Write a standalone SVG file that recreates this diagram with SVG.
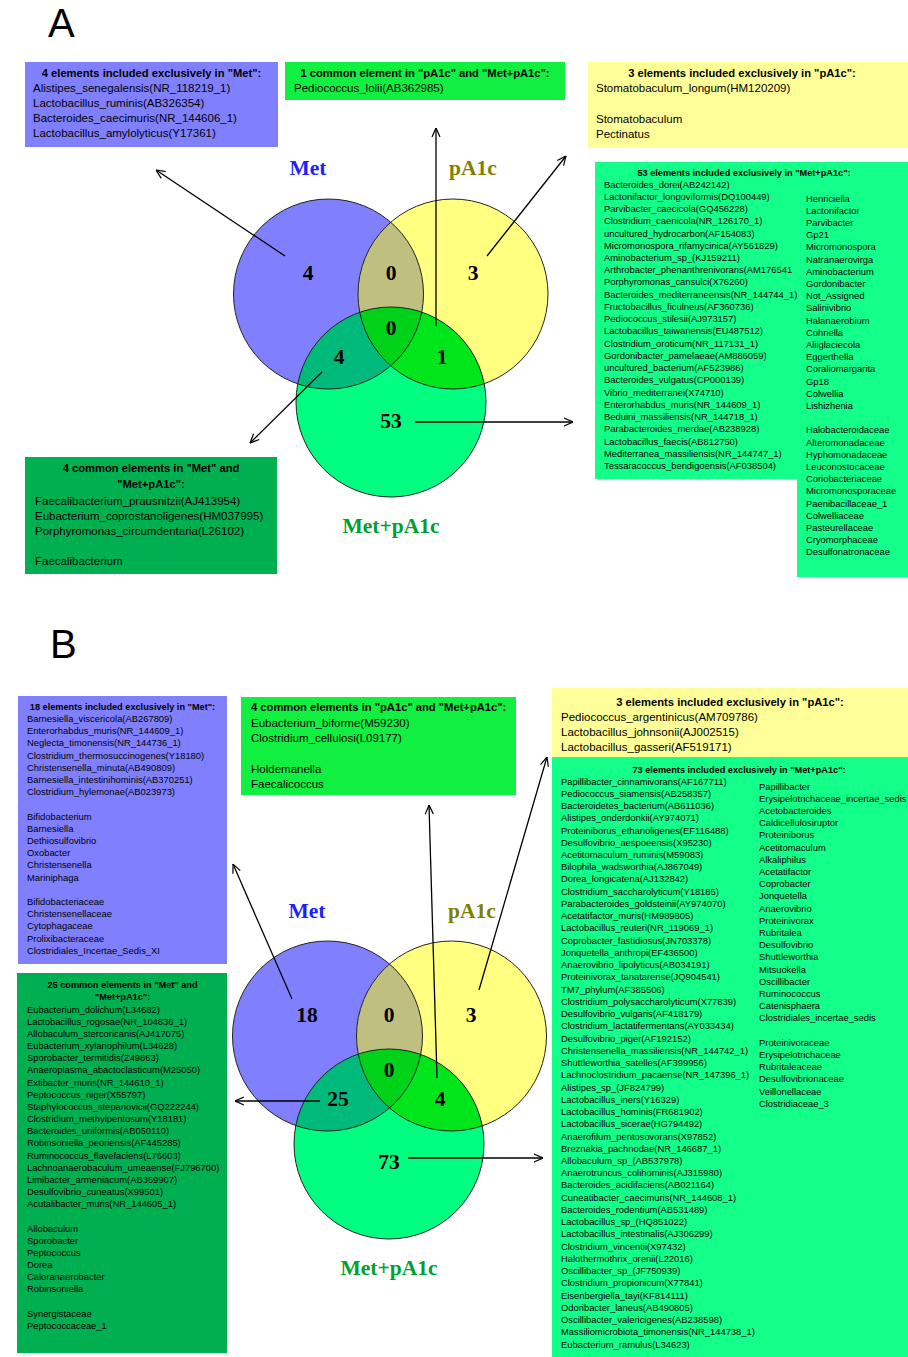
<svg xmlns="http://www.w3.org/2000/svg" width="908" height="1357" viewBox="0 0 908 1357">
<style>
.panel{font-family:"Liberation Sans",Arial,sans-serif;font-size:40px;fill:#000}
.at{font-family:"Liberation Sans",Arial,sans-serif;font-weight:bold;font-size:11.2px;fill:#000}
.ab{font-family:"Liberation Sans",Arial,sans-serif;font-size:11.5px;fill:#000}
.st{font-family:"Liberation Sans",Arial,sans-serif;font-weight:bold;font-size:9.2px;fill:#000}
.sb{font-family:"Liberation Sans",Arial,sans-serif;font-size:9.4px;fill:#000}
.mid{text-anchor:middle}
.num{font-family:"Liberation Serif","Times New Roman",serif;font-weight:bold;font-size:21.5px;fill:#000;text-anchor:middle}
.lbl{font-family:"Liberation Serif","Times New Roman",serif;font-weight:bold;font-size:21.5px;text-anchor:middle}
.purple{fill:#8080FF}
.yellow{fill:#FFFF99}
.green{fill:#11F040}
.spring{fill:#14FF8A}
.dgreen{fill:#00B050}
.outline{fill:none;stroke:#222;stroke-width:1}
.arrow{fill:none;stroke:#000;stroke-width:1.3;marker-end:url(#ah)}
</style>
<defs>
<marker id="ah" viewBox="0 0 10 10" refX="10" refY="5" markerWidth="10" markerHeight="10" markerUnits="userSpaceOnUse" orient="auto">
<path d="M1,1 L10,5 L1,9" fill="none" stroke="#000" stroke-width="1.2"/>
</marker>
<clipPath id="cAm"><circle cx="328.5" cy="294" r="95"/></clipPath>
<clipPath id="cAp"><circle cx="453" cy="294" r="95"/></clipPath>
<clipPath id="cBm"><circle cx="327.5" cy="1036" r="95"/></clipPath>
<clipPath id="cBp"><circle cx="451.5" cy="1036" r="95"/></clipPath>
</defs>
<rect width="908" height="1357" fill="#fff"/>

<text class="panel" x="48" y="37">A</text>
<text class="panel" x="50" y="658">B</text>

<!-- Panel A boxes -->
<g id="boxA-met">
<rect class="purple" x="25" y="62" width="253" height="85"/>
<text class="at mid" x="151.5" y="77">4 elements included exclusively in "Met":</text>
<text class="ab"><tspan x="33" y="92">Alistipes_senegalensis(NR_118219_1)</tspan><tspan x="33" y="107">Lactobacillus_ruminis(AB326354)</tspan><tspan x="33" y="122">Bacteroides_caecimuris(NR_144606_1)</tspan><tspan x="33" y="137">Lactobacillus_amylolyticus(Y17361)</tspan></text>
</g>
<g id="boxA-pA1c-metpA1c">
<rect class="green" x="285" y="62" width="280" height="38"/>
<text class="at mid" x="425" y="77">1 common element in "pA1c" and "Met+pA1c":</text>
<text class="ab" x="294" y="92">Pediococcus_lolii(AB362985)</text>
</g>
<g id="boxA-pA1c">
<rect class="yellow" x="588" y="62" width="320" height="86"/>
<text class="at mid" x="742" y="77">3 elements included exclusively in "pA1c":</text>
<text class="ab"><tspan x="596" y="92">Stomatobaculum_longum(HM120209)</tspan><tspan x="596" y="123">Stomatobaculum</tspan><tspan x="596" y="138">Pectinatus</tspan></text>
</g>
<g id="boxA-metpA1c">
<polygon class="spring" points="595,162 908,162 908,577 797,577 797,479 595,479"/>
<text class="st mid" x="744" y="175.5">53 elements included exclusively in "Met+pA1c":</text>
<text class="sb"><tspan x="604" y="187.5">Bacteroides_dorei(AB242142)</tspan><tspan x="604" y="199.7">Lactonifactor_longoviformis(DQ100449)</tspan><tspan x="604" y="212">Parvibacter_caecicola(GQ456228)</tspan><tspan x="604" y="224.2">Clostridium_caenicola(NR_126170_1)</tspan><tspan x="604" y="236.5">uncultured_hydrocarbon(AF154083)</tspan><tspan x="604" y="248.7">Micromonospora_rifamycinica(AY561829)</tspan><tspan x="604" y="260.9">Aminobacterium_sp_(KJ159211)</tspan><tspan x="604" y="273.2">Arthrobacter_phenanthrenivorans(AM176541</tspan><tspan x="604" y="285.4">Porphyromonas_cansulci(X76260)</tspan><tspan x="604" y="297.7">Bacteroides_mediterraneensis(NR_144744_1)</tspan><tspan x="604" y="309.9">Fructobacillus_ficulneus(AF360736)</tspan><tspan x="604" y="322.1">Pediococcus_stilesii(AJ973157)</tspan><tspan x="604" y="334.4">Lactobacillus_taiwanensis(EU487512)</tspan><tspan x="604" y="346.6">Clostridium_oroticum(NR_117131_1)</tspan><tspan x="604" y="358.9">Gordonibacter_pamelaeae(AM886059)</tspan><tspan x="604" y="371.1">uncultured_bacterium(AF523986)</tspan><tspan x="604" y="383.3">Bacteroides_vulgatus(CP000139)</tspan><tspan x="604" y="395.6">Vibrio_mediterranei(X74710)</tspan><tspan x="604" y="407.8">Enterorhabdus_muris(NR_144609_1)</tspan><tspan x="604" y="420.1">Beduini_massiliensis(NR_144718_1)</tspan><tspan x="604" y="432.3">Parabacteroides_merdae(AB238928)</tspan><tspan x="604" y="444.5">Lactobacillus_faecis(AB812750)</tspan><tspan x="604" y="456.8">Mediterranea_massiliensis(NR_144747_1)</tspan><tspan x="604" y="469">Tessaracoccus_bendigoensis(AF038504)</tspan></text>
<text class="sb"><tspan x="806" y="201.5">Henriciella</tspan><tspan x="806" y="213.7">Lactonifactor</tspan><tspan x="806" y="225.9">Parvibacter</tspan><tspan x="806" y="238.1">Gp21</tspan><tspan x="806" y="250.3">Micromonospora</tspan><tspan x="806" y="262.5">Natranaerovirga</tspan><tspan x="806" y="274.7">Aminobacterium</tspan><tspan x="806" y="286.9">Gordonibacter</tspan><tspan x="806" y="299.1">Not_Assigned</tspan><tspan x="806" y="311.3">Salinivibrio</tspan><tspan x="806" y="323.5">Halanaerobium</tspan><tspan x="806" y="335.7">Cohnella</tspan><tspan x="806" y="347.9">Aliiglaciecola</tspan><tspan x="806" y="360.1">Eggerthella</tspan><tspan x="806" y="372.3">Coraliomargarita</tspan><tspan x="806" y="384.5">Gp18</tspan><tspan x="806" y="396.7">Colwellia</tspan><tspan x="806" y="408.9">Lishizhenia</tspan><tspan x="806" y="433.3">Halobacteroidaceae</tspan><tspan x="806" y="445.5">Alteromonadaceae</tspan><tspan x="806" y="457.7">Hyphomonadaceae</tspan><tspan x="806" y="469.9">Leuconostocaceae</tspan><tspan x="806" y="482.1">Coriobacteriaceae</tspan><tspan x="806" y="494.3">Micromonosporaceae</tspan><tspan x="806" y="506.5">Paenibacillaceae_1</tspan><tspan x="806" y="518.7">Colwelliaceae</tspan><tspan x="806" y="530.9">Pasteurellaceae</tspan><tspan x="806" y="543.1">Cryomorphaceae</tspan><tspan x="806" y="555.3">Desulfonatronaceae</tspan></text>
</g>
<g id="boxA-met-metpA1c">
<rect class="dgreen" x="25" y="457" width="252" height="117"/>
<text class="at mid"><tspan x="151" y="472">4 common elements in "Met" and</tspan><tspan x="151" y="488">"Met+pA1c":</tspan></text>
<text class="ab"><tspan x="35" y="505">Faecalibacterium_prausnitzii(AJ413954)</tspan><tspan x="35" y="520">Eubacterium_coprostanoligenes(HM037995)</tspan><tspan x="35" y="535">Porphyromonas_circumdentaria(L26102)</tspan><tspan x="35" y="565">Faecalibacterium</tspan></text>
</g>

<!-- Panel A Venn -->
<g id="vennA">
<g id="circleA-met"><circle cx="328.5" cy="294" r="95" fill="#8080FF"/></g>
<g id="circleA-pA1c"><circle cx="453" cy="294" r="95" fill="#FFFF80"/></g>
<g id="circleA-metpA1c"><circle cx="391" cy="402" r="95" fill="#00FF80"/></g>
<g id="overlapsA">
<circle cx="453" cy="294" r="95" fill="#BFBF80" clip-path="url(#cAm)"/>
<circle cx="391" cy="402" r="95" fill="#00BA7C" clip-path="url(#cAm)"/>
<circle cx="391" cy="402" r="95" fill="#00E61A" clip-path="url(#cAp)"/>
<g clip-path="url(#cAm)"><circle cx="391" cy="402" r="95" fill="#00D21A" clip-path="url(#cAp)"/></g>
</g>
<circle class="outline" cx="328.5" cy="294" r="95"/>
<circle class="outline" cx="453" cy="294" r="95"/>
<circle class="outline" cx="391" cy="402" r="95"/>
</g>

<g id="connectorsA">
<path class="arrow" d="M285,256 L156,170"/>
<path class="arrow" d="M436,326 L436,128"/>
<path class="arrow" d="M487,256 L566,156"/>
<path class="arrow" d="M322,372 L250,443"/>
<path class="arrow" d="M415,422 L573,422"/>
</g>

<g id="labelsA">
<text class="lbl" x="308" y="175" fill="#1E1EFF">Met</text>
<text class="lbl" x="473" y="175" fill="#808000">pA1c</text>
<text class="lbl" x="391" y="533" fill="#00A030">Met+pA1c</text>
<text class="num" x="308" y="280">4</text>
<text class="num" x="391" y="280">0</text>
<text class="num" x="473" y="280">3</text>
<text class="num" x="391" y="335">0</text>
<text class="num" x="339" y="364">4</text>
<text class="num" x="442" y="364">1</text>
<text class="num" x="391" y="428">53</text>
</g>

<!-- Panel B boxes -->
<g id="boxB-met">
<rect class="purple" x="18" y="696" width="209" height="268"/>
<text class="st mid" x="122.5" y="709.5">18 elements included exclusively in "Met":</text>
<text class="sb"><tspan x="27" y="722">Barnesiella_viscericola(AB267809)</tspan><tspan x="27" y="734.2">Enterorhabdus_muris(NR_144609_1)</tspan><tspan x="27" y="746.4">Neglecta_timonensis(NR_144736_1)</tspan><tspan x="27" y="758.6">Clostridium_thermosuccinogenes(Y18180)</tspan><tspan x="27" y="770.8">Christensenella_minuta(AB490809)</tspan><tspan x="27" y="783">Barnesiella_intestinihominis(AB370251)</tspan><tspan x="27" y="795.2">Clostridium_hylemonae(AB023973)</tspan><tspan x="27" y="819.6">Bifidobacterium</tspan><tspan x="27" y="831.8">Barnesiella</tspan><tspan x="27" y="844">Dethiosulfovibrio</tspan><tspan x="27" y="856.2">Oxobacter</tspan><tspan x="27" y="868.4">Christensenella</tspan><tspan x="27" y="880.6">Mariniphaga</tspan><tspan x="27" y="904.9">Bifidobacteriaceae</tspan><tspan x="27" y="917.1">Christensenellaceae</tspan><tspan x="27" y="929.3">Cytophagaceae</tspan><tspan x="27" y="941.5">Prolixibacteraceae</tspan><tspan x="27" y="953.7">Clostridiales_Incertae_Sedis_XI</tspan></text>
</g>
<g id="boxB-met-metpA1c">
<rect class="dgreen" x="17" y="973" width="210" height="380"/>
<text class="st mid"><tspan x="122.5" y="988">25 common elements in "Met" and</tspan><tspan x="122.5" y="1000.3">"Met+pA1c":</tspan></text>
<text class="sb"><tspan x="27" y="1012.5">Eubacterium_dolichum(L34682)</tspan><tspan x="27" y="1024.7">Lactobacillus_rogosae(NR_104836_1)</tspan><tspan x="27" y="1036.8">Allobaculum_stercoricanis(AJ417075)</tspan><tspan x="27" y="1049">Eubacterium_xylanophilum(L34628)</tspan><tspan x="27" y="1061.2">Sporobacter_termitidis(Z49863)</tspan><tspan x="27" y="1073.4">Anaeroplasma_abactoclasticum(M25050)</tspan><tspan x="27" y="1085.5">Extibacter_muris(NR_144610_1)</tspan><tspan x="27" y="1097.7">Peptococcus_niger(X55797)</tspan><tspan x="27" y="1109.9">Staphylococcus_stepanovicii(GQ222244)</tspan><tspan x="27" y="1122">Clostridium_methylpentosum(Y18181)</tspan><tspan x="27" y="1134.2">Bacteroides_uniformis(AB050110)</tspan><tspan x="27" y="1146.4">Robinsoniella_peoriensis(AF445285)</tspan><tspan x="27" y="1158.5">Ruminococcus_flavefaciens(L76603)</tspan><tspan x="27" y="1170.7">Lachnoanaerobaculum_umeaense(FJ796700)</tspan><tspan x="27" y="1182.9">Limibacter_armeniacum(AB359907)</tspan><tspan x="27" y="1195">Desulfovibrio_cuneatus(X99501)</tspan><tspan x="27" y="1207.2">Acutalibacter_muris(NR_144605_1)</tspan><tspan x="27" y="1231.6">Allobaculum</tspan><tspan x="27" y="1243.7">Sporobacter</tspan><tspan x="27" y="1255.9">Peptococcus</tspan><tspan x="27" y="1268.1">Dorea</tspan><tspan x="27" y="1280.2">Caloranaerobacter</tspan><tspan x="27" y="1292.4">Robinsoniella</tspan><tspan x="27" y="1316.8">Synergistaceae</tspan><tspan x="27" y="1328.9">Peptococcaceae_1</tspan></text>
</g>
<g id="boxB-pA1c-metpA1c">
<rect class="green" x="241" y="697" width="275" height="98"/>
<text class="at" x="251" y="711">4 common elements in "pA1c" and "Met+pA1c":</text>
<text class="ab"><tspan x="251" y="727">Eubacterium_biforme(M59230)</tspan><tspan x="251" y="742">Clostridium_cellulosi(L09177)</tspan><tspan x="251" y="773">Holdemanella</tspan><tspan x="251" y="788">Faecalicoccus</tspan></text>
</g>
<g id="boxB-pA1c">
<rect class="yellow" x="552" y="688" width="356" height="69"/>
<text class="at mid" x="730" y="706">3 elements included exclusively in "pA1c":</text>
<text class="ab"><tspan x="561" y="721">Pediococcus_argentinicus(AM709786)</tspan><tspan x="561" y="736">Lactobacillus_johnsonii(AJ002515)</tspan><tspan x="561" y="751">Lactobacillus_gasseri(AF519171)</tspan></text>
</g>
<g id="boxB-metpA1c">
<rect class="spring" x="552" y="757" width="356" height="600"/>
<text class="st mid" x="739" y="772.5">73 elements included exclusively in "Met+pA1c":</text>
<text class="sb"><tspan x="561" y="784.5">Papillibacter_cinnamivorans(AF167711)</tspan><tspan x="561" y="796.7">Pediococcus_siamensis(AB258357)</tspan><tspan x="561" y="809">Bacteroidetes_bacterium(AB611036)</tspan><tspan x="561" y="821.2">Alistipes_onderdonkii(AY974071)</tspan><tspan x="561" y="833.5">Proteiniborus_ethanoligenes(EF116488)</tspan><tspan x="561" y="845.7">Desulfovibrio_aespoeensis(X95230)</tspan><tspan x="561" y="857.9">Acetitomaculum_ruminis(M59083)</tspan><tspan x="561" y="870.2">Bilophila_wadsworthia(AJ867049)</tspan><tspan x="561" y="882.4">Dorea_longicatena(AJ132842)</tspan><tspan x="561" y="894.7">Clostridium_saccharolyticum(Y18185)</tspan><tspan x="561" y="906.9">Parabacteroides_goldsteinii(AY974070)</tspan><tspan x="561" y="919.1">Acetatifactor_muris(HM989805)</tspan><tspan x="561" y="931.4">Lactobacillus_reuteri(NR_119069_1)</tspan><tspan x="561" y="943.6">Coprobacter_fastidiosus(JN703378)</tspan><tspan x="561" y="955.9">Jonquetella_anthropi(EF436500)</tspan><tspan x="561" y="968.1">Anaerovibrio_lipolyticus(AB034191)</tspan><tspan x="561" y="980.3">Proteinivorax_tanatarense(JQ904541)</tspan><tspan x="561" y="992.6">TM7_phylum(AF385506)</tspan><tspan x="561" y="1004.8">Clostridium_polysaccharolyticum(X77839)</tspan><tspan x="561" y="1017.1">Desulfovibrio_vulgaris(AF418179)</tspan><tspan x="561" y="1029.3">Clostridium_lactatifermentans(AY033434)</tspan><tspan x="561" y="1041.5">Desulfovibrio_piger(AF192152)</tspan><tspan x="561" y="1053.8">Christensenella_massiliensis(NR_144742_1)</tspan><tspan x="561" y="1066">Shuttleworthia_satelles(AF399956)</tspan><tspan x="561" y="1078.3">Lachnoclostridium_pacaense(NR_147396_1)</tspan><tspan x="561" y="1090.5">Alistipes_sp_(JF824799)</tspan><tspan x="561" y="1102.7">Lactobacillus_iners(Y16329)</tspan><tspan x="561" y="1115">Lactobacillus_hominis(FR681902)</tspan><tspan x="561" y="1127.2">Lactobacillus_sicerae(HG794492)</tspan><tspan x="561" y="1139.5">Anaerofilum_pentosovorans(X97852)</tspan><tspan x="561" y="1151.7">Breznakia_pachnodae(NR_146687_1)</tspan><tspan x="561" y="1163.9">Allobaculum_sp_(AB537978)</tspan><tspan x="561" y="1176.2">Anaerotruncus_colihominis(AJ315980)</tspan><tspan x="561" y="1188.4">Bacteroides_acidifaciens(AB021164)</tspan><tspan x="561" y="1200.7">Cuneatibacter_caecimuris(NR_144608_1)</tspan><tspan x="561" y="1212.9">Bacteroides_rodentium(AB531489)</tspan><tspan x="561" y="1225.1">Lactobacillus_sp_(HQ851022)</tspan><tspan x="561" y="1237.4">Lactobacillus_intestinalis(AJ306299)</tspan><tspan x="561" y="1249.6">Clostridium_vincentii(X97432)</tspan><tspan x="561" y="1261.9">Halothermothrix_orenii(L22016)</tspan><tspan x="561" y="1274.1">Oscillibacter_sp_(JF750939)</tspan><tspan x="561" y="1286.3">Clostridium_propionicum(X77841)</tspan><tspan x="561" y="1298.6">Eisenbergiella_tayi(KF814111)</tspan><tspan x="561" y="1310.8">Odoribacter_laneus(AB490805)</tspan><tspan x="561" y="1323.1">Oscillibacter_valericigenes(AB238598)</tspan><tspan x="561" y="1335.3">Massiliomicrobiota_timonensis(NR_144738_1)</tspan><tspan x="561" y="1347.5">Eubacterium_ramulus(L34623)</tspan></text>
<text class="sb"><tspan x="759" y="789.5">Papillibacter</tspan><tspan x="759" y="801.7">Erysipelotrichaceae_incertae_sedis</tspan><tspan x="759" y="813.9">Acetobacteroides</tspan><tspan x="759" y="826.1">Caldicellulosiruptor</tspan><tspan x="759" y="838.3">Proteiniborus</tspan><tspan x="759" y="850.5">Acetitomaculum</tspan><tspan x="759" y="862.7">Alkaliphilus</tspan><tspan x="759" y="874.9">Acetatifactor</tspan><tspan x="759" y="887.1">Coprobacter</tspan><tspan x="759" y="899.3">Jonquetella</tspan><tspan x="759" y="911.5">Anaerovibrio</tspan><tspan x="759" y="923.7">Proteinivorax</tspan><tspan x="759" y="935.9">Rubritalea</tspan><tspan x="759" y="948.1">Desulfovibrio</tspan><tspan x="759" y="960.3">Shuttleworthia</tspan><tspan x="759" y="972.5">Mitsuokella</tspan><tspan x="759" y="984.7">Oscillibacter</tspan><tspan x="759" y="996.9">Ruminococcus</tspan><tspan x="759" y="1009.1">Catenisphaera</tspan><tspan x="759" y="1021.3">Clostridiales_incertae_sedis</tspan><tspan x="759" y="1045.7">Proteinivoraceae</tspan><tspan x="759" y="1057.9">Erysipelotrichaceae</tspan><tspan x="759" y="1070.1">Rubritaleaceae</tspan><tspan x="759" y="1082.3">Desulfovibrionaceae</tspan><tspan x="759" y="1094.5">Veillonellaceae</tspan><tspan x="759" y="1106.7">Clostridiaceae_3</tspan></text>
</g>

<!-- Panel B Venn -->
<g id="vennB">
<g id="circleB-met"><circle cx="327.5" cy="1036" r="95" fill="#8080FF"/></g>
<g id="circleB-pA1c"><circle cx="451.5" cy="1036" r="95" fill="#FFFF80"/></g>
<g id="circleB-metpA1c"><circle cx="389" cy="1144" r="95" fill="#00FF80"/></g>
<g id="overlapsB">
<circle cx="451.5" cy="1036" r="95" fill="#BFBF80" clip-path="url(#cBm)"/>
<circle cx="389" cy="1144" r="95" fill="#00BA7C" clip-path="url(#cBm)"/>
<circle cx="389" cy="1144" r="95" fill="#00E61A" clip-path="url(#cBp)"/>
<g clip-path="url(#cBm)"><circle cx="389" cy="1144" r="95" fill="#00D21A" clip-path="url(#cBp)"/></g>
</g>
<circle class="outline" cx="327.5" cy="1036" r="95"/>
<circle class="outline" cx="451.5" cy="1036" r="95"/>
<circle class="outline" cx="389" cy="1144" r="95"/>
</g>

<g id="connectorsB">
<path class="arrow" d="M292,999 L233,864"/>
<path class="arrow" d="M437,1078 L429,805"/>
<path class="arrow" d="M479,990 L547,757"/>
<path class="arrow" d="M320,1101 L235,1101"/>
<path class="arrow" d="M408,1158 L543,1158"/>
</g>

<g id="labelsB">
<text class="lbl" x="307" y="918" fill="#1E1EFF">Met</text>
<text class="lbl" x="472" y="918" fill="#808000">pA1c</text>
<text class="lbl" x="389" y="1275" fill="#00A030">Met+pA1c</text>
<text class="num" x="307" y="1022">18</text>
<text class="num" x="389" y="1022">0</text>
<text class="num" x="471" y="1022">3</text>
<text class="num" x="389" y="1077">0</text>
<text class="num" x="338" y="1106">25</text>
<text class="num" x="440" y="1106">4</text>
<text class="num" x="389" y="1169">73</text>
</g>
</svg>
